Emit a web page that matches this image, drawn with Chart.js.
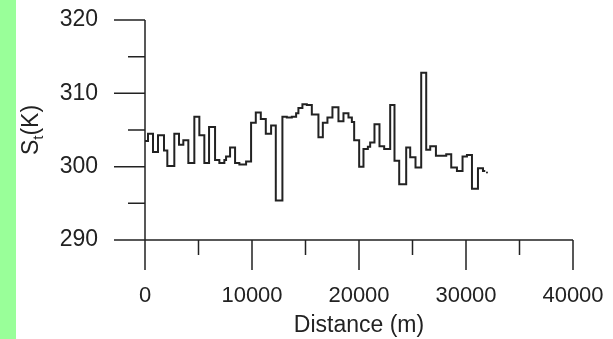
<!DOCTYPE html>
<html>
<head>
<meta charset="utf-8">
<script src="https://cdn.jsdelivr.net/npm/chart.js@4/dist/chart.umd.min.js"></script>
<style>
  html, body { margin: 0; padding: 0; background: #fff; }
  #wrap { width: 613px; height: 339px; position: relative; }
</style>
</head>
<body>
<div id="wrap"><canvas id="perfil"></canvas></div>
<script>
// perfil de temperatura de superficie a lo largo del transecto
const distancias = [0, 280, 748, 1216, 1777, 2086, 2740, 3180, 3582, 4050,
  4611, 5079, 5546, 5986, 6547, 6949, 7417, 7576, 7950, 8418,
  8820, 9447, 9914, 10354, 10822, 11289, 11785, 12224, 12842, 13253,
  13721, 14123, 14338, 14712, 15124, 15591, 16209, 16620, 17051, 17518,
  18080, 18548, 19015, 19333, 19548, 20015, 20418, 20829, 21044, 21446,
  21914, 22353, 22915, 23317, 23757, 24411, 24785, 25281, 25814, 26282,
  26656, 27189, 28153, 28620, 29153, 29677, 30088, 30557, 31118, 31586, 31800];
const temperaturas = [303.5, 304.5, 302.0, 304.3, 302.2, 300.1, 304.5, 303.0, 303.6, 300.5,
  306.8, 304.3, 300.5, 305.4, 300.9, 300.5, 300.9, 301.4, 302.6, 300.5,
  300.3, 300.7, 306.0, 307.4, 306.5, 304.5, 305.6, 295.4, 306.8, 306.7,
  306.8, 307.3, 308.0, 308.5, 308.4, 307.1, 304.0, 306.0, 306.7, 308.1,
  306.2, 307.3, 306.7, 306.1, 303.6, 300.0, 302.4, 302.7, 303.3, 305.8,
  302.8, 302.4, 308.4, 300.8, 297.6, 302.6, 301.3, 299.9, 312.8, 302.3,
  302.8, 301.5, 301.7, 299.9, 299.4, 301.4, 301.6, 297.0, 299.8, 299.4, 299.4];
// punto suelto al final del registro
const puntoFinal = [{ x: 31960, y: 299.2 }];

const ticksX = [0, 10000, 20000, 30000, 40000];
const ticksY = [290, 300, 310, 320];
const menoresX = [5000, 15000, 25000, 35000];
const menoresY = [295, 305, 315];

const FUENTE = '"Liberation Sans", Arial, sans-serif';
const TINTA = '#222';

const puntos = distancias.map((d, i) => ({ x: d, y: temperaturas[i] }));

// fondo blanco con franja verde a la izquierda
const fondo = {
  id: 'fondo',
  beforeDraw(chart) {
    const ctx = chart.ctx;
    ctx.save();
    ctx.fillStyle = '#fff';
    ctx.fillRect(0, 0, chart.width, chart.height);
    ctx.fillStyle = '#99ff99';
    ctx.fillRect(0, 0, 16, chart.height);
    ctx.restore();
  }
};

// ejes con marcas largas y cortas, y el título del eje Y con subíndice
const ejes = {
  id: 'ejes',
  afterDraw(chart) {
    const ctx = chart.ctx;
    const sx = chart.scales.x, sy = chart.scales.y;
    const x0 = sx.getPixelForValue(0), x1 = sx.getPixelForValue(40000);
    const y0 = sy.getPixelForValue(290), y1 = sy.getPixelForValue(320);
    ctx.save();
    ctx.strokeStyle = TINTA;
    ctx.lineWidth = 1.5;
    ctx.beginPath();
    ctx.moveTo(x0, y1); ctx.lineTo(x0, y0);
    ctx.moveTo(x0, y0); ctx.lineTo(x1, y0);
    ticksX.forEach(v => { const p = sx.getPixelForValue(v); ctx.moveTo(p, y0); ctx.lineTo(p, y0 + 30); });
    menoresX.forEach(v => { const p = sx.getPixelForValue(v); ctx.moveTo(p, y0); ctx.lineTo(p, y0 + 15); });
    ticksY.forEach(v => { const p = sy.getPixelForValue(v); ctx.moveTo(x0, p); ctx.lineTo(x0 - 31, p); });
    menoresY.forEach(v => { const p = sy.getPixelForValue(v); ctx.moveTo(x0, p); ctx.lineTo(x0 - 17, p); });
    ctx.stroke();

    // S_t(K) girado
    ctx.translate(32, (y0 + y1) / 2);
    ctx.rotate(-Math.PI / 2);
    ctx.fillStyle = TINTA;
    ctx.textBaseline = 'middle';
    ctx.font = '23px ' + FUENTE;
    const wS = ctx.measureText('S').width;
    ctx.font = '15px ' + FUENTE;
    const wt = ctx.measureText('t').width;
    ctx.font = '23px ' + FUENTE;
    const wK = ctx.measureText('(K)').width;
    let x = -(wS + wt + wK) / 2;
    ctx.fillText('S', x, 0); x += wS;
    ctx.font = '15px ' + FUENTE;
    ctx.fillText('t', x, 7); x += wt;
    ctx.font = '23px ' + FUENTE;
    ctx.fillText('(K)', x, 0);
    ctx.restore();
  }
};

new Chart(document.getElementById('perfil'), {
  type: 'line',
  data: {
    datasets: [{
      data: puntos,
      // cada valor se mantiene hasta la siguiente distancia
      stepped: 'before',
      borderColor: TINTA,
      borderWidth: 2,
      pointRadius: 0,
      fill: false
    }, {
      data: puntoFinal,
      showLine: false,
      pointRadius: 1,
      pointBackgroundColor: TINTA,
      pointBorderWidth: 0
    }]
  },
  options: {
    responsive: true,
    maintainAspectRatio: false,
    animation: false,
    layout: { padding: { left: 0, top: 20, right: 40, bottom: 0 } },
    plugins: { legend: { display: false }, tooltip: { enabled: false } },
    scales: {
      x: {
        type: 'linear',
        min: 0, max: 40000,
        afterFit: s => { s.height = 99; s.paddingLeft = 0; s.paddingRight = 0; },
        afterBuildTicks: s => { s.ticks = ticksX.map(v => ({ value: v })); },
        grid: { display: false, drawTicks: false, tickLength: 0 },
        border: { display: false },
        ticks: {
          autoSkip: false, maxRotation: 0, padding: 43,
          color: TINTA, font: { family: FUENTE, size: 22 },
          callback: v => String(v)
        },
        title: {
          display: true, text: 'Distance (m)', color: TINTA,
          font: { family: FUENTE, size: 23 }, padding: { top: 0, bottom: 0 }
        }
      },
      y: {
        min: 290, max: 320,
        afterFit: s => { s.width = 145; s.paddingTop = 0; s.paddingBottom = 0; },
        afterBuildTicks: s => { s.ticks = ticksY.map(v => ({ value: v })); },
        grid: { display: false, drawTicks: false, tickLength: 0 },
        border: { display: false },
        ticks: {
          autoSkip: false, padding: 47,
          color: TINTA, font: { family: FUENTE, size: 23 },
          callback: v => String(v)
        }
      }
    }
  },
  plugins: [fondo, ejes]
});
</script>
</body>
</html>
